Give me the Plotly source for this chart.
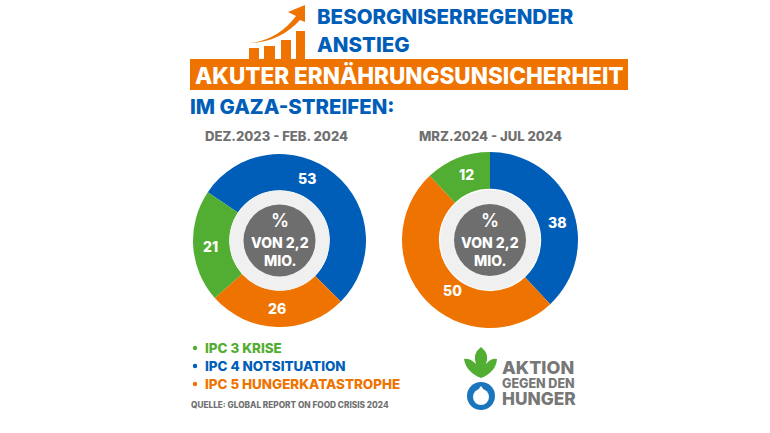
import plotly.graph_objects as go

W, H = 770, 433

# --- data ---
categories_left = ["IPC 4 Notsituation", "IPC 5 Hungerkatastrophe", "IPC 3 Krise"]
values_left = [53, 26, 21]
categories_right = ["IPC 4 Notsituation", "IPC 5 Hungerkatastrophe", "IPC 3 Krise"]
values_right = [38, 50, 12]
title_lines = ["BESORGNISERREGENDER", "ANSTIEG"]
banner_text = "AKUTER ERNÄHRUNGSUNSICHERHEIT"
subtitle = "IM GAZA-STREIFEN:"
period_left = "DEZ.2023 - FEB. 2024"
period_right = "MRZ.2024 - JUL 2024"
legend_labels = ["IPC 3 KRISE", "IPC 4 NOTSITUATION", "IPC 5 HUNGERKATASTROPHE"]
source_text = "QUELLE: GLOBAL REPORT ON FOOD CRISIS 2024"
centre_lines = ["%", "VON 2,2", "MIO."]
logo_lines = ["AKTION", "GEGEN DEN", "HUNGER"]

BLUE, ORANGE, GREEN = "#005EB8", "#EF7300", "#52AE32"
GREY, RING = "#6E6E6E", "#F0F0F0"
FONT = "Inter"


def px(x):
    return x / W


def py(y):
    return 1 - y / H


def path(d):
    """d: list of (command, x, y, ...) in pixels -> paper path string"""
    out = []
    for seg in d:
        cmd, nums = seg[0], seg[1:]
        pts = []
        for i in range(0, len(nums), 2):
            pts.append(f"{px(nums[i]):.5f},{py(nums[i + 1]):.5f}")
        out.append(cmd + " ".join(pts))
    return " ".join(out) + " Z"


fig = go.Figure()


def donut(values, cats, cx, cy, r, rotation):
    fig.add_trace(go.Pie(
        values=values, labels=cats, sort=False, direction="clockwise",
        rotation=rotation, hole=50 / 86, textinfo="none", showlegend=False,
        marker=dict(colors=[BLUE, ORANGE, GREEN], line=dict(width=0)),
        domain=dict(x=[px(cx - r), px(cx + r)], y=[py(cy + r), py(cy - r)]),
    ))


donut(values_left, categories_left, 279.5, 240.5, 86.5, 304)
donut(values_right, categories_right, 490, 240, 88, 0)

shapes, annos = [], []


def circle(cx, cy, r, color):
    shapes.append(dict(type="circle", xref="paper", yref="paper", layer="above",
                       x0=px(cx - r), x1=px(cx + r), y0=py(cy + r), y1=py(cy - r),
                       fillcolor=color, line=dict(width=0)))


def rect(x0, y0, x1, y1, color):
    shapes.append(dict(type="rect", xref="paper", yref="paper", layer="above",
                       x0=px(x0), x1=px(x1), y0=py(y1), y1=py(y0),
                       fillcolor=color, line=dict(width=0)))


def poly(d, color):
    shapes.append(dict(type="path", xref="paper", yref="paper", layer="above",
                       path=path(d), fillcolor=color, line=dict(width=0)))


def text(t, x, y, size, color, anchor="left", weight=800):
    annos.append(dict(text=t, x=px(x), y=py(y), xref="paper", yref="paper",
                      xanchor=anchor, yanchor="middle", showarrow=False,
                      borderpad=0, borderwidth=0,
                      font=dict(family=FONT, size=size, color=color, weight=weight)))


# header
text(title_lines[0], 317, 16, 20.5, BLUE)
text(title_lines[1], 317, 45, 20.5, BLUE)
rect(190, 59, 628, 90, ORANGE)
text(banner_text, 195, 75, 22.5, "#FFFFFF")
text(subtitle, 190, 107, 20.4, BLUE)
text(period_left, 205, 136, 13.1, "#707070")
text(period_right, 419, 136, 13.1, "#707070")

# header icon: bars and arrow
for x0, x1, top in [(249, 259, 48), (264, 275, 46), (281, 291, 40), (296, 305, 31)]:
    rect(x0, top, x1, 60, ORANGE)
poly([("M", 250, 43), ("Q", 278, 40, 296, 16), ("L", 288, 12), ("L", 305, 5),
      ("L", 305, 22), ("L", 300, 20), ("Q", 280, 42, 250, 43)], ORANGE)

# donuts: ring, centre, labels
for cx, cy in [(279.5, 240.5), (490, 240)]:
    circle(cx, cy, 50, RING)
    circle(cx, cy, 36, GREY)
    text(centre_lines[0], cx, cy - 20, 18, "#FFFFFF", "center", 600)
    text(centre_lines[1], cx, cy + 2, 14, "#FFFFFF", "center")
    text(centre_lines[2], cx, cy + 20, 14, "#FFFFFF", "center")

for v, (x, y) in zip(values_left, [(307, 178), (277, 308), (211, 246)]):
    text(str(v), x, y, 14, "#FFFFFF", "center")
for v, (x, y) in zip(values_right, [(557, 223), (452, 290), (466, 175)]):
    text(str(v), x, y, 14, "#FFFFFF", "center")

# legend
for label, y, c in zip(legend_labels, [348, 366, 384], [GREEN, BLUE, ORANGE]):
    circle(195, y, 2.2, c)
    text(label, 205, y, 13.4, c)
text(source_text, 191, 405, 8.25, "#707070")

# logo
poly([("M", 481, 347), ("Q", 472, 354, 476, 364), ("Q", 470, 358, 464, 359),
      ("Q", 466, 372, 481, 378), ("Q", 496, 372, 497, 359), ("Q", 491, 358, 486, 364),
      ("Q", 490, 354, 481, 347)], GREEN)
circle(481, 396, 14, "#1B75BC")
circle(481, 397, 8, "#FFFFFF")
poly([("M", 481, 386), ("L", 487, 394), ("L", 475, 394)], "#FFFFFF")
text(logo_lines[0], 502, 367, 18, "#777777")
text(logo_lines[1], 502, 383, 12.5, "#777777")
text(logo_lines[2], 502, 398, 17.3, "#777777")

fig.update_layout(
    width=W, height=H, margin=dict(l=0, r=0, t=0, b=0),
    paper_bgcolor="#FFFFFF", plot_bgcolor="#FFFFFF",
    shapes=shapes, annotations=annos, showlegend=False,
)
fig.write_html("out.html", config={"displayModeBar": False},
               post_script="document.body.style.margin='0';document.body.style.overflow='hidden';")
